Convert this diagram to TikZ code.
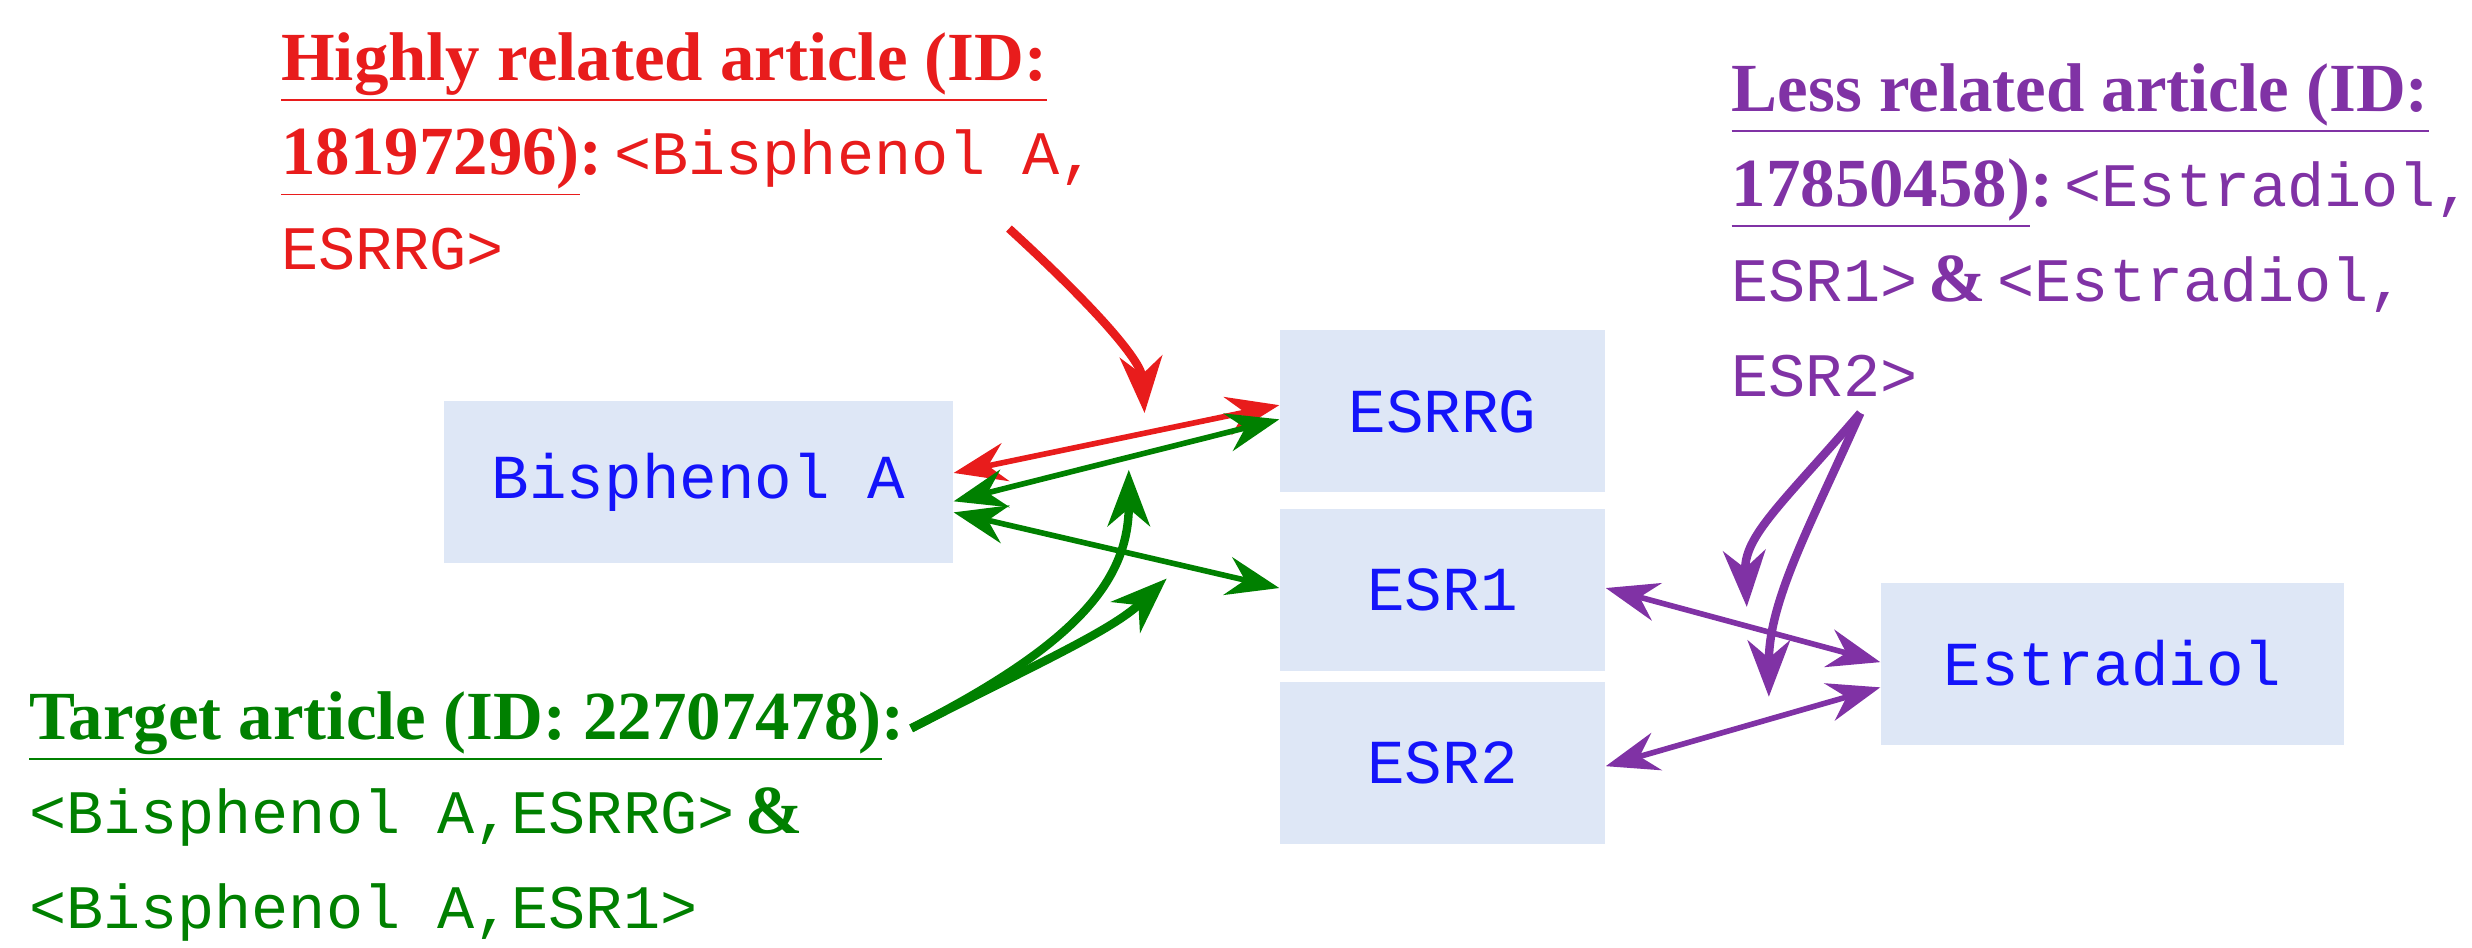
\documentclass[tikz,border=0pt]{standalone}
\usepackage{fontspec}
\setmainfont{Liberation Serif}
\setmonofont{Liberation Mono}
\usetikzlibrary{arrows.meta}
\definecolor{boxfill}{RGB}{222,231,246}
\definecolor{cred}{RGB}{232,28,28}
\definecolor{cgreen}{RGB}{0,128,0}
\definecolor{cpurple}{RGB}{128,50,165}
\definecolor{cblue}{RGB}{20,20,250}
\tikzset{
  x=0.015765cm, y=-0.015765cm,
  ent/.style={fill=boxfill, draw=none, text=cblue, font=\fontsize{17.8}{20}\selectfont\ttfamily, minimum height=1.62cm, inner sep=0pt},
  lab/.style={anchor=north west, align=left, inner sep=0pt, font=\fontsize{19.6}{27}\selectfont},
  mt/.style={},
  tip/.style={-{Stealth[length=16pt,width=12pt,inset=5pt]}},
  dtip/.style={{Stealth[length=15pt,width=11pt,inset=5pt]}-{Stealth[length=15pt,width=11pt,inset=5pt]}},
}
\newcommand{\tl}[1]{\textbf{\underline{#1}}}
\newcommand{\mtx}[1]{{\fontsize{17.6}{27}\selectfont\ttfamily #1}}
\begin{document}
\begin{tikzpicture}
\useasboundingbox (0,0) rectangle (1568,601);
\node[ent, minimum width=5.09cm] (bpa) at (443,306) {Bisphenol A};
\node[ent, minimum width=3.25cm] (esrrg) at (915,261) {ESRRG};
\node[ent, minimum width=3.25cm] (esr1) at (915,374) {ESR1};
\node[ent, minimum width=3.25cm] (esr2) at (915,484) {ESR2};
\node[ent, minimum width=4.63cm] (estr) at (1340,421) {Estradiol};

\node[lab, text=cred] (red) at (178,20) {\tl{Highly related article (ID:}\\ \tl{18197296)}\textbf{:}\,\mtx{<Bisphenol A,}\\ \mtx{ESRRG>}};
\node[lab, text=cpurple] (pur) at (1098,40) {\tl{Less related article (ID:}\\ \tl{17850458)}\textbf{:}\,\mtx{<Estradiol,}\\ \mtx{ESR1>}\,\textbf{\&}\,\mtx{<Estradiol,}\\ \mtx{ESR2>}};
\node[lab, text=cgreen] (grn) at (18,438) {\tl{Target article (ID: 22707478)}\textbf{:}\\ \mtx{<Bisphenol A,ESRRG>}\,\textbf{\&}\\ \mtx{<Bisphenol A,ESR1>}};

\coordinate (rs) at (640,145);
\coordinate (re) at (726,262);
\coordinate (gs) at (578,462);
\coordinate (ge1) at (716,298);
\coordinate (ge2) at (740,367);
\coordinate (ps) at (1180,262);
\coordinate (pe1) at (1108,385);
\coordinate (pe2) at (1122,442);

\draw[dtip, cred, line width=1.6pt] (bpa.east |- 0,300) -- (esrrg.west |- 0,257);
\draw[dtip, cgreen, line width=1.6pt] (bpa.east |- 0,318) -- (esrrg.west |- 0,266);
\draw[dtip, cgreen, line width=1.6pt] (bpa.east |- 0,325) -- (esrrg.west |- 0,373);
\draw[dtip, cpurple, line width=1.6pt] (esr1.east |- 0,373) -- (estr.west |- 0,420);
\draw[dtip, cpurple, line width=1.6pt] (esr2.east |- 0,486) -- (estr.west |- 0,436);

\draw[tip, cred, line width=2.4pt] (rs) .. controls (700,200) and (724,230) .. (re);
\draw[tip, cgreen, line width=2.4pt] (gs) .. controls (680,410) and (716,370) .. (ge1);
\draw[tip, cgreen, line width=2.4pt] (gs) .. controls (660,420) and (705,400) .. (ge2);
\draw[tip, cpurple, line width=2.4pt] (ps) .. controls (1130,320) and (1106,340) .. (pe1);
\draw[tip, cpurple, line width=2.4pt] (ps) .. controls (1150,330) and (1122,380) .. (pe2);
\end{tikzpicture}
\end{document}
